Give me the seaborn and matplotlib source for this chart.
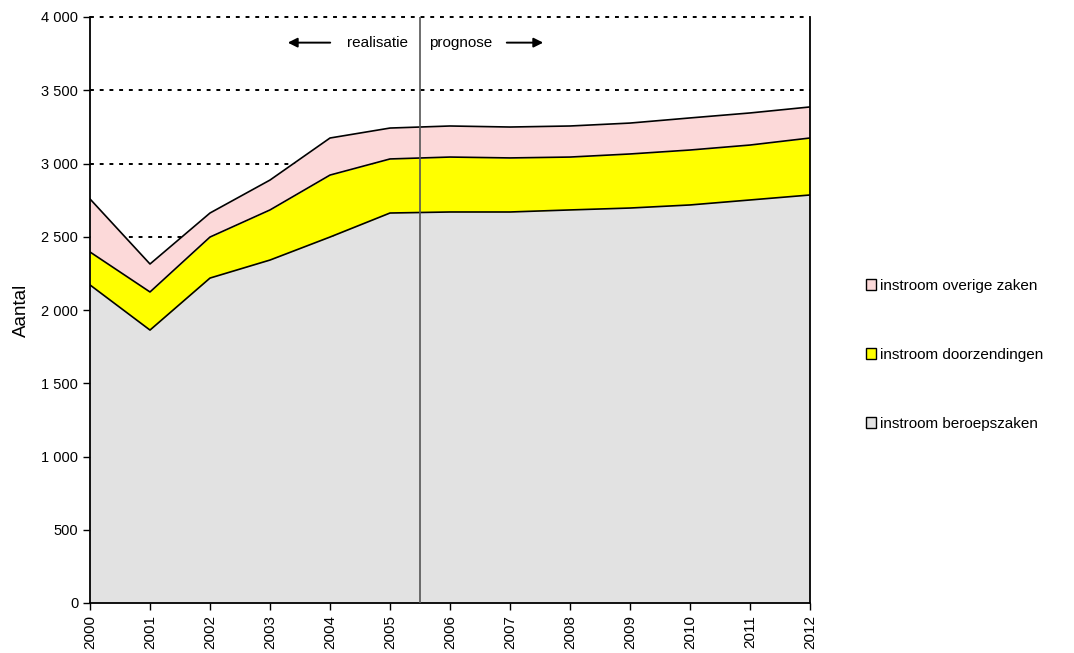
import matplotlib
matplotlib.use("Agg")
import matplotlib.pyplot as plt
import seaborn as sns
import pandas as pd
from matplotlib.patches import Patch
from matplotlib.ticker import FuncFormatter

years = list(range(2000, 2013))
beroepszaken = [2171, 1863, 2218, 2341, 2498, 2662, 2669, 2669, 2683, 2696, 2717, 2751, 2785]
doorzendingen = [225, 260, 280, 342, 423, 369, 375, 369, 361, 369, 375, 375, 389]
overige_zaken = [362, 191, 164, 204, 253, 211, 212, 211, 212, 211, 219, 219, 212]
labels = ["instroom beroepszaken", "instroom doorzendingen", "instroom overige zaken"]
colors = ["#e2e2e2", "#ffff00", "#fcd9d9"]
yticks = [0, 500, 1000, 1500, 2000, 2500, 3000, 3500, 4000]
grid_levels = [2500, 3000, 3500, 4000]

sns.set_style("white")
plt.rcParams['font.family'] = ['Liberation Sans', 'DejaVu Sans']
plt.rcParams.update({"text.color": "black", "axes.labelcolor": "black",
                     "xtick.color": "black", "ytick.color": "black"})

df = pd.DataFrame({"jaar": years, "b": beroepszaken, "d": doorzendingen, "o": overige_zaken})
df["l1"] = df["b"]
df["l2"] = df["b"] + df["d"]
df["l3"] = df["l2"] + df["o"]

fig = plt.figure(figsize=(10.74, 6.53), dpi=100)
ax = fig.add_axes([90/1074, 50/653, 720/1074, 586/653])

for g in grid_levels:
    ax.axhline(g, color="black", linestyle=(0, (2, 3)), linewidth=1.4, zorder=0, clip_on=False)

ax.fill_between(df["jaar"], 0, df["l1"], color=colors[0], linewidth=0, zorder=1)
ax.fill_between(df["jaar"], df["l1"], df["l2"], color=colors[1], linewidth=0, zorder=1)
ax.fill_between(df["jaar"], df["l2"], df["l3"], color=colors[2], linewidth=0, zorder=1)
for col in ["l1", "l2", "l3"]:
    sns.lineplot(data=df, x="jaar", y=col, ax=ax, color="black", linewidth=1.2, zorder=2)

ax.axvline(2005.5, color="#555555", linewidth=1.2, zorder=3)

ax.set_xlim(2000, 2012)
ax.set_ylim(0, 4000)
ax.set_xticks(years)
ax.set_xticklabels([str(y) for y in years], rotation=90, fontsize=11)
ax.set_yticks(yticks)
ax.yaxis.set_major_formatter(FuncFormatter(lambda v, p: f"{int(v):,}".replace(",", " ")))
ax.tick_params(axis="y", labelsize=10.5, length=5, width=1, direction="out", left=True)
ax.tick_params(axis="x", length=5, width=1, direction="out", bottom=True)
ax.set_xlabel("")
ax.set_ylabel("Aantal", fontsize=13.5, labelpad=8)

for s in ["left", "bottom", "right"]:
    ax.spines[s].set_visible(True)
    ax.spines[s].set_color("black")
    ax.spines[s].set_linewidth(1.3)
ax.spines["top"].set_visible(False)

ax.text(2005.3, 3825, "realisatie", ha="right", va="center", fontsize=11)
ax.text(2005.65, 3825, "prognose", ha="left", va="center", fontsize=11)
ax.annotate("", xy=(2003.25, 3825), xytext=(2004.05, 3825),
            arrowprops=dict(arrowstyle="-|>", color="black", lw=1.4, mutation_scale=14))
ax.annotate("", xy=(2007.6, 3825), xytext=(2006.9, 3825),
            arrowprops=dict(arrowstyle="-|>", color="black", lw=1.4, mutation_scale=14))

handles = [Patch(facecolor=colors[2], edgecolor="black", linewidth=1),
           Patch(facecolor=colors[1], edgecolor="black", linewidth=1),
           Patch(facecolor=colors[0], edgecolor="black", linewidth=1)]
fig.legend(handles, [labels[2], labels[1], labels[0]], loc="upper left",
           bbox_to_anchor=(852/1074, 1 - 265/653), frameon=False, fontsize=11,
           handlelength=0.7, handleheight=0.7, handletextpad=0.25, labelspacing=3.6)

fig.savefig("out.png", dpi=100)
